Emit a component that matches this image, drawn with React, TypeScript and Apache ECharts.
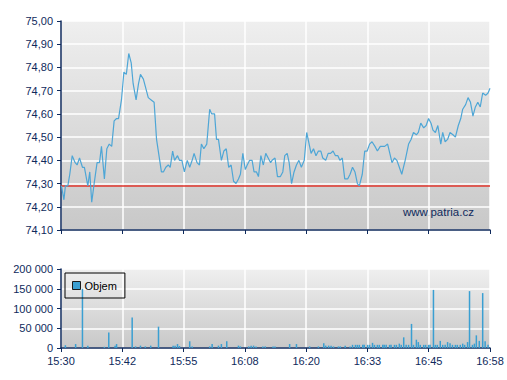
import React, { useEffect, useRef } from "react";
import * as echarts from "echarts";

// minutes since 15:30
const priceTimes = [
  0.1, 0.6, 0.9, 1.4, 1.8, 2.3, 2.9, 3.3, 3.8, 4.4, 4.8, 5.5, 5.9, 6.3, 6.8, 7.4, 7.9, 8.3, 8.9, 9.4, 9.9, 10.4, 10.9, 11.4, 11.8, 12.4, 12.9, 13.4, 13.9, 14.4, 14.8, 15.4, 15.9, 16.3, 16.9, 17.4, 17.9, 18.5, 19.1, 19.6, 20.1, 20.6, 21.0, 21.5, 22.0, 22.4,
  22.9, 23.3, 23.9, 24.3, 24.8, 25.3, 25.9, 26.4, 26.9, 27.3, 27.9, 28.4, 28.8, 29.3, 29.9, 30.5, 30.9, 31.5, 31.9, 32.3, 32.9, 33.4, 33.9, 34.4, 34.9, 35.4, 35.9, 36.4, 36.8, 37.3, 37.8, 38.2, 38.7, 39.2, 39.6, 40.1, 40.5, 41.0, 41.5, 42.0, 42.5, 43.0,
  43.3, 43.9, 44.4, 45.0, 45.5, 45.9, 46.4, 46.8, 47.3, 47.8, 48.3, 48.8, 49.3, 49.9, 50.4, 50.9, 51.3, 51.8, 52.3, 52.8, 53.3, 53.7, 54.3, 54.8, 55.3, 55.8, 56.3, 56.8, 57.2, 57.7, 58.2, 58.8, 59.3, 59.8, 60.3, 60.8, 61.2, 61.8, 62.3, 62.8, 63.3, 63.8, 64.4, 64.9,
  65.5, 66.0, 66.4, 67.0, 67.9, 68.4, 68.9, 69.4, 69.9, 70.6, 71.3, 71.8, 72.3, 72.9, 73.3, 73.8, 74.4, 74.9, 75.4, 75.9, 76.3, 76.8, 77.3, 77.9, 78.3, 78.8, 79.3, 79.8, 80.4, 80.9, 81.5, 82.0, 82.4, 83.0, 83.5, 84.0, 84.5, 85.0, 85.5, 86.0, 86.5, 87.1, 87.6, 88.0,
];
const prices = [
  74.29, 74.23, 74.29, 74.29, 74.34, 74.42, 74.39, 74.38, 74.41, 74.37, 74.37, 74.29, 74.35, 74.22, 74.30, 74.39, 74.39, 74.46, 74.32, 74.45, 74.47, 74.46, 74.57, 74.58, 74.58, 74.66, 74.78, 74.77, 74.86, 74.82, 74.73, 74.66, 74.73, 74.77, 74.75, 74.71, 74.67, 74.66, 74.65, 74.49, 74.42, 74.35, 74.35, 74.37, 74.38, 74.37,
  74.44, 74.40, 74.42, 74.40, 74.40, 74.35, 74.40, 74.37, 74.40, 74.43, 74.39, 74.38, 74.47, 74.45, 74.47, 74.62, 74.60, 74.60, 74.49, 74.49, 74.40, 74.44, 74.45, 74.37, 74.38, 74.31, 74.30, 74.32, 74.34, 74.43, 74.36, 74.38, 74.40, 74.40, 74.35, 74.35, 74.33, 74.42, 74.38, 74.43, 74.41, 74.39,
  74.40, 74.41, 74.33, 74.33, 74.35, 74.42, 74.43, 74.39, 74.30, 74.35, 74.38, 74.40, 74.37, 74.40, 74.52, 74.47, 74.43, 74.45, 74.42, 74.44, 74.44, 74.41, 74.40, 74.43, 74.43, 74.44, 74.42, 74.42, 74.40, 74.41, 74.32, 74.32, 74.34, 74.37, 74.35, 74.30, 74.29, 74.34, 74.44, 74.44, 74.47, 74.48, 74.46, 74.44,
  74.46, 74.46, 74.46, 74.47, 74.39, 74.41, 74.40, 74.37, 74.34, 74.40, 74.47, 74.49, 74.52, 74.51, 74.52, 74.56, 74.54, 74.55, 74.58, 74.56, 74.53, 74.52, 74.55, 74.47, 74.52, 74.48, 74.49, 74.52, 74.51, 74.50, 74.55, 74.58, 74.62, 74.64, 74.67, 74.65, 74.59, 74.63, 74.65, 74.63, 74.69, 74.68, 74.69, 74.71,
];
const referencePrice = 74.29;

const volumeTimes = [
  0.9, 3.0, 4.4, 5.5, 8.9, 9.8, 11.1, 11.4, 14.6, 15.3, 16.3, 17.3, 18.4, 20.0,
  23.0, 23.4, 23.9, 24.3, 26.4, 26.9, 30.5, 31.0, 32.3, 32.9, 34.0, 36.4, 36.8, 38.5, 39.0, 39.5, 40.0, 41.4, 41.9, 43.5, 43.9, 46.9, 48.3, 51.0, 52.8, 53.9, 54.3, 54.9, 55.4, 55.9,
  56.9, 57.3, 58.3, 59.3, 59.8, 60.4, 60.8, 61.2, 61.9, 62.2, 62.9, 63.3, 63.9, 64.3, 64.9, 65.3, 66.0, 66.3, 66.7, 67.4, 67.7, 68.4, 68.8, 69.4, 69.8, 70.3, 70.8, 71.3, 71.9, 72.3, 72.9, 73.3, 73.7, 74.4, 74.8, 75.4, 75.7, 76.4, 76.8, 77.2, 77.8, 78.3, 78.8, 79.3, 79.8, 80.3, 80.9, 81.3, 81.9, 82.4, 82.8, 83.4, 83.8, 84.4, 84.8, 85.2, 85.8, 86.5, 87.0, 87.6,
];
const volumes = [
  7000, 10000, 150000, 6000, 3000, 39000, 6000, 10000, 77000, 4000, 6000, 4000, 6000, 54000,
  6000, 6000, 10000, 5000, 17000, 4000, 4000, 10000, 6000, 10000, 17000, 6000, 4000, 4000, 6000, 6000, 4000, 4000, 4000, 4000, 4000, 10000, 10000, 4000, 4000, 12000, 6000, 6000, 6000, 4000,
  4000, 4000, 6000, 4000, 8000, 8000, 8000, 8000, 8000, 8000, 8000, 8000, 13000, 8000, 8000, 8000, 8000, 8000, 8000, 8000, 8000, 8000, 8000, 11000, 8000, 27000, 8000, 8000, 61000, 8000, 21000, 15000, 8000, 8000, 8000, 8000, 8000, 147000, 8000, 8000, 18000, 8000, 8000, 15000, 12000, 8000, 8000, 8000, 8000, 11000, 8000, 15000, 144000, 8000, 11000, 32000, 18000, 139000, 17000, 8000,
];

const timeTickLabels = ["15:30", "15:42", "15:55", "16:08", "16:20", "16:33", "16:45", "16:58"];
const sessionMinutes = 88;

const NAVY = "#0f2a5c";
const FONT = "Arial, 'Liberation Sans', sans-serif";

export default function App() {
  const ref = useRef<HTMLDivElement>(null);
  useEffect(() => {
    if (!ref.current) return;
    const chart = echarts.init(ref.current, null, { renderer: "svg" });
    const step = sessionMinutes / (timeTickLabels.length - 1);
    const bg = () =>
      new echarts.graphic.LinearGradient(0, 0, 0, 1, [
        { offset: 0, color: "#efefef" },
        { offset: 1, color: "#c8c8c8" },
      ]);
    const xBase = {
      type: "value" as const,
      min: 0,
      max: sessionMinutes,
      interval: step,
      axisLine: { show: true, lineStyle: { color: NAVY, width: 1.5 } },
      axisTick: { show: true, length: 4, lineStyle: { color: NAVY, width: 1 } },
      splitLine: { show: true, lineStyle: { color: "#ffffff", width: 1.5 } },
    };
    const yLabel = { color: NAVY, fontSize: 11, fontFamily: FONT, margin: 8 };
    chart.setOption({
      animation: false,
      textStyle: { fontFamily: FONT },
      grid: [
        { left: 61, right: 17, top: 21, height: 209, show: true, backgroundColor: bg(), borderWidth: 0 },
        { left: 61, right: 17, top: 269, height: 79, show: true, backgroundColor: bg(), borderWidth: 0 },
      ],
      xAxis: [
        { ...xBase, gridIndex: 0, axisLabel: { show: false } },
        {
          ...xBase,
          gridIndex: 1,
          axisLabel: {
            show: true,
            color: NAVY,
            fontSize: 11,
            fontFamily: FONT,
            margin: 7,
            formatter: (v: number) => timeTickLabels[Math.round(v / step)] ?? "",
          },
        },
      ],
      yAxis: [
        {
          type: "value",
          gridIndex: 0,
          min: 74.1,
          max: 75.0,
          interval: 0.1,
          axisLine: { show: true, lineStyle: { color: NAVY, width: 1.5 } },
          axisTick: { show: true, length: 4, lineStyle: { color: NAVY } },
          splitLine: { show: true, lineStyle: { color: "#ffffff", width: 1.5 } },
          axisLabel: { ...yLabel, formatter: (v: number) => v.toFixed(2).replace(".", ",") },
        },
        {
          type: "value",
          gridIndex: 1,
          min: 0,
          max: 200000,
          interval: 50000,
          axisLine: { show: true, lineStyle: { color: NAVY, width: 1.5 } },
          axisTick: { show: true, length: 4, lineStyle: { color: NAVY } },
          splitLine: { show: true, lineStyle: { color: "#ffffff", width: 1.5 } },
          axisLabel: {
            ...yLabel,
            formatter: (v: number) => String(Math.round(v)).replace(/\B(?=(\d{3})+(?!\d))/g, " "),
          },
        },
      ],
      legend: {
        data: ["Objem"],
        left: 65,
        top: 273,
        orient: "vertical",
        borderColor: "#000000",
        borderWidth: 1,
        padding: [7, 8, 7, 7],
        itemWidth: 8,
        itemHeight: 8,
        itemGap: 5,
        icon: "rect",
        textStyle: { color: "#000000", fontSize: 11, fontFamily: FONT, padding: [0, 0, 0, -1] },
        itemStyle: { borderColor: "#1a1a1a", borderWidth: 1 },
        selectedMode: false,
      },
      graphic: [
        {
          type: "text",
          left: 403,
          top: 206,
          style: { text: "www.patria.cz", fill: NAVY, font: `11.5px ${FONT}` },
          silent: true,
        },
      ],
      series: [
        {
          name: "Cena",
          type: "line",
          xAxisIndex: 0,
          yAxisIndex: 0,
          showSymbol: false,
          data: priceTimes.map((t, i) => [t, prices[i]]),
          lineStyle: { color: "#4ea6d6", width: 1.2 },
          itemStyle: { color: "#4ea6d6" },
          z: 3,
          markLine: {
            silent: true,
            symbol: ["none", "none"],
            label: { show: false },
            lineStyle: { color: "#e0352b", width: 1.5, type: "solid" },
            data: [{ yAxis: referencePrice }],
            z: 2,
          },
        },
        {
          name: "Objem",
          type: "bar",
          xAxisIndex: 1,
          yAxisIndex: 1,
          barWidth: 1.5,
          data: volumeTimes.map((t, i) => [t, volumes[i]]),
          itemStyle: { color: "#3a9fd2" },
        },
      ],
    });
    return () => chart.dispose();
  }, []);
  return (
    <div
      ref={ref}
      style={{ position: "fixed", left: 0, top: 0, width: 507, height: 380, background: "#ffffff" }}
    />
  );
}
